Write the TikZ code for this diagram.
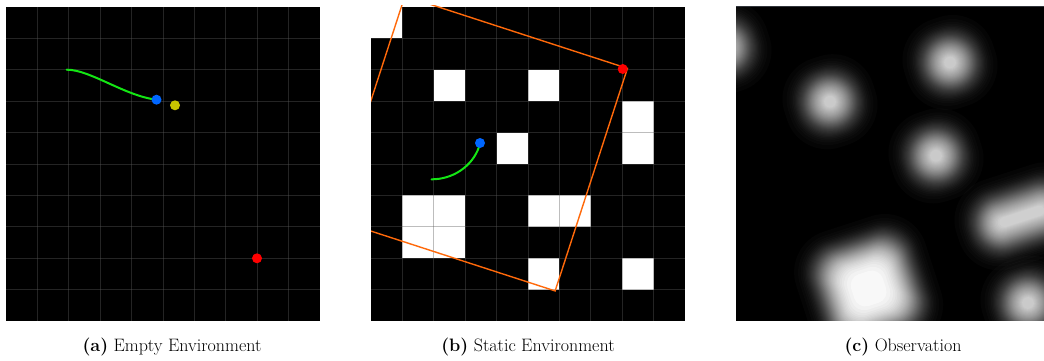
\documentclass[tikz,border=0pt]{standalone}
\usepackage{fontspec}
\setmainfont{Latin Modern Roman}
\definecolor{gridc}{RGB}{90,90,90}
\definecolor{trajgreen}{RGB}{20,230,20}
\definecolor{robotblue}{RGB}{0,102,255}
\definecolor{goalred}{RGB}{255,0,0}
\definecolor{subgoal}{RGB}{200,195,0}
\definecolor{fovorange}{RGB}{255,105,10}
\definecolor{cborder}{RGB}{48,52,58}
\tikzset{
  gridln/.style={draw=gridc, line width=1pt, draw opacity=0.4},
  traj/.style={draw=trajgreen, line width=2pt, line cap=round},
  dot/.style={circle, inner sep=0pt, minimum size=10pt, draw=none},
  fov/.style={draw=fovorange, line width=1.4pt},
  captext/.style={anchor=base, inner sep=0pt, font=\fontsize{18}{22}\selectfont},
  cellfill/.style={fill=white},
  glow/.style={fill=white}
}
% blurred obstacle: centre x, centre y, half width, half height, peak factor, number of 0.02 levels
\newcommand\glowbox[6]{%
  \begin{scope}[shift={(#1,#2)}, rotate=18]
    \foreach \k in {1,...,#6}{
      \pgfmathsetmacro\Lp{(\k-1)*0.02}
      \pgfmathsetmacro\op{0.02/(1-\Lp)}
      \pgfmathsetmacro\q{\k*0.02/#5}
      \pgfmathsetmacro\dd{-12.6*4.91*(pow(\q,0.14)-pow(1-\q,0.14))}
      \pgfmathsetmacro\qs{sqrt(\q)}
      \pgfmathsetmacro\ddc{-12.6*4.91*(pow(\qs,0.14)-pow(1-\qs,0.14))}
      \pgfmathsetmacro\hx{(#3+\dd >= #3/2) ? (#3+\dd) : ((#3/2)*exp((#3+\dd-#3/2)/(#3/2)))}
      \pgfmathsetmacro\hy{(#4+\dd >= #4/2) ? (#4+\dd) : ((#4/2)*exp((#4+\dd-#4/2)/(#4/2)))}
      \pgfmathsetmacro\rr{max(min((\dd-\ddc)/0.293, min(\hx,\hy)-0.05),0.1)}
      \fill[glow, fill opacity=\op, rounded corners=\rr pt] (-\hx,-\hy) rectangle (\hx,\hy);
    }
  \end{scope}}
\begin{document}
\begin{tikzpicture}[x=1pt,y=-1pt]
\useasboundingbox (0,0) rectangle (1044,361);

% ---------------- panel (a) ----------------
\fill[black] (6,7) rectangle (320,321);
\foreach \i in {1,...,9}{
  \draw[gridln] ({6+31.4*\i},7) -- ({6+31.4*\i},321);
  \draw[gridln] (6,{7+31.4*\i}) -- (320,{7+31.4*\i});
}
\coordinate (startA) at (66.7,69.7);
\coordinate (posA) at (156.5,99.7);
\draw[traj] (startA) .. controls (90,69.5) and (125,96) .. (posA);
\node[dot, fill=robotblue] (robotA) at (posA) {};
\node[dot, fill=subgoal] (subgoalA) at (175,105.3) {};
\node[dot, fill=goalred] (goalA) at (257,258.3) {};

% ---------------- panel (b) ----------------
\fill[black] (371,7) rectangle (685,321);
\foreach \c/\r in {0/0,2/2,5/2,8/3,8/4,4/4,1/6,2/6,1/7,2/7,5/6,6/6,5/8,8/8}{
  \fill[cellfill] ({371+31.4*\c},{7+31.4*\r}) rectangle ++(31.4,31.4);
}
\foreach \i in {1,...,9}{
  \draw[gridln] ({371+31.4*\i},7) -- ({371+31.4*\i},321);
  \draw[gridln] (371,{7+31.4*\i}) -- (685,{7+31.4*\i});
}
\begin{scope}
  \clip (371,5.5) rectangle (685,321);
  \draw[fov, rotate around={-18:(480,143.5)}] (363,26.5) rectangle (597,260.5);
\end{scope}
\coordinate (startB) at (431.5,179.3);
\coordinate (posB) at (480,143);
\draw[traj] (startB) .. controls (452,179.5) and (472,167) .. (479,147);
\node[dot, fill=robotblue] (robotB) at (posB) {};
\node[dot, fill=goalred] (goalB) at (622.7,69) {};

% ---------------- panel (c) ----------------
\begin{scope}
  \clip (736,6) rectangle (1044,321);
  \fill[black] (736,6) rectangle (1050,321);
  \glowbox{724}{47.5}{21}{21}{0.905}{41}
  \glowbox{830}{101.7}{21}{21}{0.905}{41}
  \glowbox{950}{62.5}{21}{21}{0.905}{41}
  \glowbox{936}{155.8}{21}{21}{0.905}{41}
  \glowbox{1028}{303}{21}{21}{0.905}{41}
  \glowbox{868.6}{288.5}{42}{42}{1.0}{49}
  \glowbox{1022}{216.4}{42}{21}{0.905}{42}
\end{scope}
\draw[cborder, line width=1.5pt] (736,6.75) -- (1044,6.75);

% ---------------- captions ----------------
\node[captext] (capA) at (172,351) {\textbf{(a)} Empty Environment};
\node[captext] (capB) at (528,351) {\textbf{(b)} Static Environment};
\node[captext] (capC) at (903,351) {\textbf{(c)} Observation};
\end{tikzpicture}
\end{document}
